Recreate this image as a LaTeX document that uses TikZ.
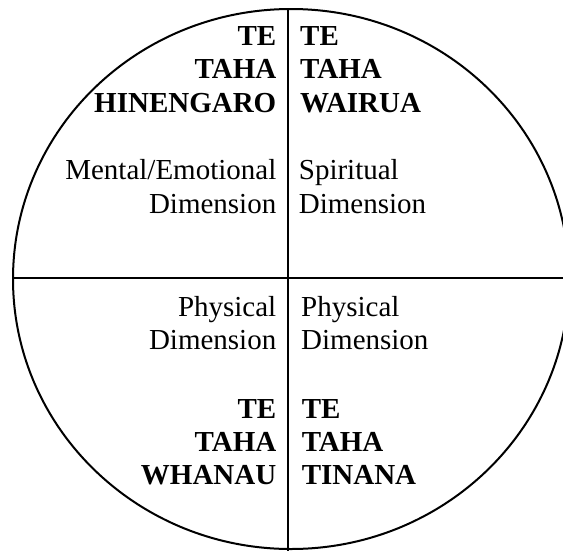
\documentclass[tikz,border=0pt]{standalone}
\usepackage{fontspec}
\setmainfont{Liberation Serif}

\tikzset{
  wheel/.style={line width=2pt},
  axisline/.style={line width=2pt},
  mlabel/.style={inner sep=0pt,font=\fontsize{29}{33.3}\selectfont\bfseries},
  dlabel/.style={inner sep=0pt,font=\fontsize{29}{33.3}\selectfont},
}

\begin{document}
\begin{tikzpicture}[x=1pt,y=-1pt]
  \useasboundingbox (0,0) rectangle (563,550);
  \clip (0,0) rectangle (563,550);

  % the wheel and its four quarters
  \draw[wheel] (291,279) ellipse [x radius=278,y radius=270];
  \coordinate (top) at (288.3,9);
  \coordinate (bottom) at (288.3,560);
  \coordinate (left) at (13,278.3);
  \coordinate (right) at (575,278.3);
  \draw[axisline] (top) -- (bottom);
  \draw[axisline] (left) -- (right);

  % upper half (anchored at the last line)
  \node[mlabel,anchor=base east,align=right] (hinengaro) at (276.5,112) {TE\\TAHA\\HINENGARO};
  \node[mlabel,anchor=base west,align=left] (wairua) at (300,112) {TE\\TAHA\\WAIRUA};
  \node[dlabel,anchor=base east,align=right] (mental) at (276.5,213) {Mental/Emotional\\Dimension};
  \node[dlabel,anchor=base west,align=left] (spiritual) at (298.7,213) {Spiritual\\Dimension};

  % lower half
  \node[dlabel,anchor=base east,align=right] (physl) at (276.5,349.7) {Physical\\Dimension};
  \node[dlabel,anchor=base west,align=left] (physr) at (301,349.7) {Physical\\Dimension};
  \node[mlabel,anchor=base east,align=right] (whanau) at (276.5,484.7) {TE\\TAHA\\WHANAU};
  \node[mlabel,anchor=base west,align=left] (tinana) at (301.6,484.7) {TE\\TAHA\\TINANA};
\end{tikzpicture}
\end{document}
